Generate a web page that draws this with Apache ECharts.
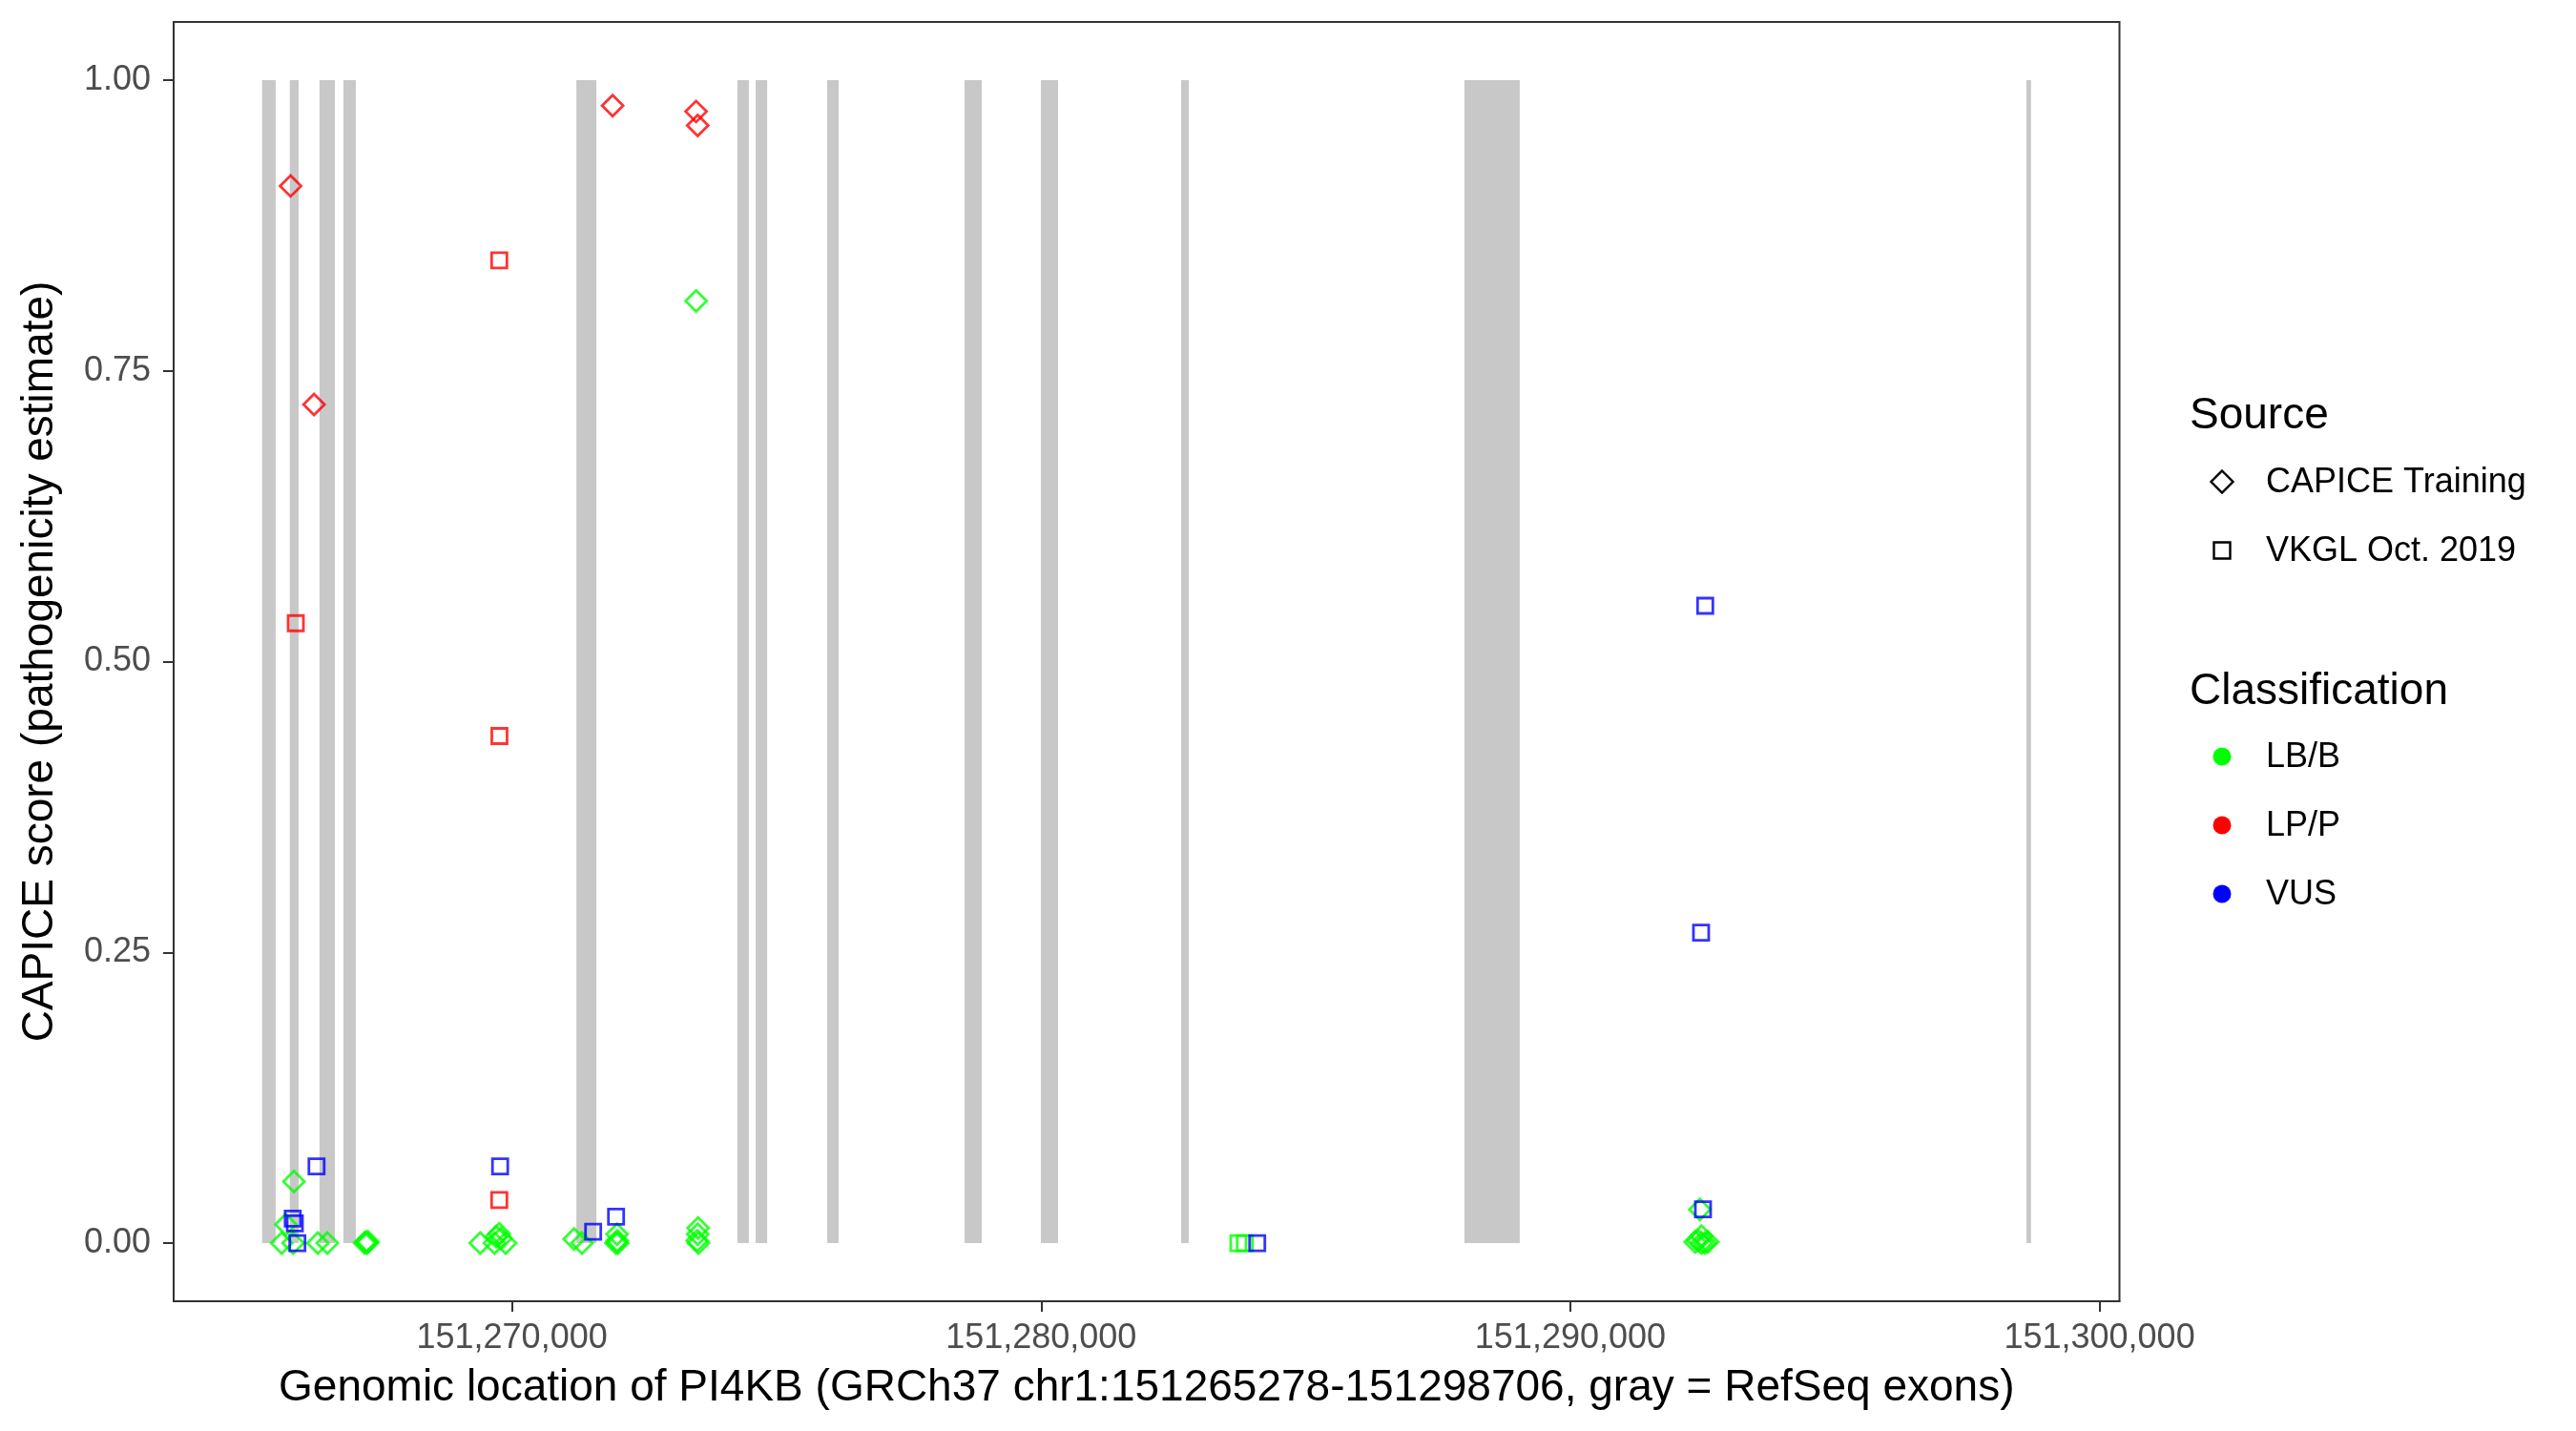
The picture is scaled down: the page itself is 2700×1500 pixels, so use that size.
<!DOCTYPE html>
<html><head><meta charset="utf-8">
<script src="https://cdn.jsdelivr.net/npm/echarts@6/dist/echarts.min.js"></script>
<style>html,body{margin:0;padding:0;background:#fff}#c{width:2700px;height:1500px}</style>
</head><body><div id="c"></div>
<script>
// Gene and exon coordinates (GRCh37 chr1)
const geneStart = 151265278;
const geneEnd = 151298706;
const exonStarts = [151265278, 151265801, 151266363, 151266814, 151271217, 151274260, 151274605, 151275957, 151278553, 151279995, 151282646, 151287999, 151298618];
const exonEnds   = [151265534, 151265969, 151266654, 151267049, 151271596, 151274477, 151274823, 151276173, 151278878, 151280320, 151282790, 151289044, 151298706];

// Tick labels
const xTicks = [151270000, 151280000, 151290000, 151300000];
const yTicks = [0, 0.25, 0.5, 0.75, 1];

// CAPICE Training, LB/B (green diamonds)
const capiceBenignPos   = [151265648, 151265727, 151265864, 151265880, 151266331, 151266510, 151267215, 151267240, 151267260, 151267280, 151269400, 151269670, 151269701, 151269760, 151269790, 151269881, 151271174, 151271323, 151271965, 151271985, 151272000, 151271990, 151273480, 151273517, 151273510, 151273500, 151273525, 151292358, 151292477, 151292598, 151292417, 151292544, 151292477, 151292448];
const capiceBenignScore = [0, 0.016, 0, 0.053, 0, 0, 0, 0.001, 0, 0.001, 0, 0, 0.0055, 0.008, 0.004, 0, 0.0036, 0, 0, 0.0077, 0, 0.002, 0.810, 0.013, 0.0077, 0.002, 0, 0.001, 0.006, 0.001, 0.002, 0, 0, 0.029];

// CAPICE Training, LP/P (red diamonds)
const capicePathoPos   = [151265817, 151266259, 151271902, 151273480, 151273510];
const capicePathoScore = [0.909, 0.721, 0.978, 0.973, 0.961];

// VKGL Oct. 2019, LB/B (green squares)
const vkglBenignPos   = [151283727, 151283849];
const vkglBenignScore = [0, 0];

// VKGL Oct. 2019, LP/P (red squares)
const vkglPathoPos   = [151265915, 151269760, 151269763, 151269760];
const vkglPathoScore = [0.533, 0.845, 0.436, 0.037];

// VKGL Oct. 2019, VUS (blue squares)
const vkglVusPos   = [151265857, 151265897, 151265945, 151266307, 151269776, 151271534, 151271967, 151284083, 151292471, 151292507, 151292549];
const vkglVusScore = [0.021, 0.017, 0, 0.066, 0.066, 0.0098, 0.0227, 0, 0.267, 0.029, 0.548];

const GREEN = '#00FF00', RED = '#FF0000', BLUE = '#0000FF';
const FONT = '"Liberation Sans", Arial, sans-serif';

const span = geneEnd - geneStart;
const xMin = geneStart - 0.05 * span;
const xMax = geneEnd + 0.05 * span;

function pairs(p, s) { return p.map((v, i) => [v, s[i]]); }
function commas(v) { return String(Math.round(v)).replace(/\B(?=(\d{3})+(?!\d))/g, ','); }

function pointSeries(name, pos, score, symbol, color) {
  return {
    name: name, type: 'scatter', data: pairs(pos, score),
    symbol: symbol, symbolSize: symbol === 'diamond' ? 22 : 16,
    itemStyle: { color: 'rgba(0,0,0,0)', borderColor: color, borderWidth: 2.8 },
    emphasis: { disabled: true }, silent: true, z: 3
  };
}

const chart = echarts.init(document.getElementById('c'));
const GL = 2329, TX = 2375, DY = 2;
chart.setOption({
  animation: false,
  backgroundColor: '#fff',
  grid: { left: 182, top: 23, width: 2039.5, height: 1341, show: true, borderColor: '#333', borderWidth: 2, backgroundColor: '#fff' },
  xAxis: {
    type: 'value', min: xMin, max: xMax,
    name: 'Genomic location of PI4KB (GRCh37 chr1:151265278-151298706, gray = RefSeq exons)',
    nameLocation: 'middle', nameGap: 68,
    nameTextStyle: { fontSize: 46, color: '#000', fontFamily: FONT },
    axisLine: { show: true, onZero: false, lineStyle: { color: '#333', width: 2 } },
    axisTick: { show: true, length: 11, customValues: xTicks, lineStyle: { color: '#333', width: 2 } },
    axisLabel: { customValues: xTicks, formatter: commas, fontSize: 36, color: '#4D4D4D', fontFamily: FONT, margin: 21 },
    splitLine: { show: false }
  },
  yAxis: {
    type: 'value', min: -0.05, max: 1.05,
    name: 'CAPICE score (pathogenicity estimate)',
    nameLocation: 'middle', nameGap: 117, nameRotate: 90,
    nameTextStyle: { fontSize: 46, color: '#000', fontFamily: FONT },
    axisLine: { show: true, onZero: false, lineStyle: { color: '#333', width: 2 } },
    axisTick: { show: true, length: 11, customValues: yTicks, lineStyle: { color: '#333', width: 2 } },
    axisLabel: { customValues: yTicks, formatter: v => v.toFixed(2), fontSize: 36, color: '#4D4D4D', fontFamily: FONT, margin: 24 },
    splitLine: { show: false }
  },
  series: [
    {
      name: 'RefSeq exons', type: 'custom', silent: true, z: 1,
      data: exonStarts.map((s, i) => [s, exonEnds[i], 0, 1]),
      encode: { x: [0, 1], y: [2, 3] },
      renderItem: function (params, api) {
        const p0 = api.coord([api.value(0), api.value(3)]);
        const p1 = api.coord([api.value(1), api.value(2)]);
        return { type: 'rect', shape: { x: p0[0], y: p0[1], width: p1[0] - p0[0], height: p1[1] - p0[1] }, style: { fill: '#C8C8C8' } };
      }
    },
    pointSeries('CAPICE Training LB/B', capiceBenignPos, capiceBenignScore, 'diamond', GREEN),
    pointSeries('VKGL LB/B', vkglBenignPos, vkglBenignScore, 'rect', GREEN),
    pointSeries('CAPICE Training LP/P', capicePathoPos, capicePathoScore, 'diamond', RED),
    pointSeries('VKGL LP/P', vkglPathoPos, vkglPathoScore, 'rect', RED),
    pointSeries('VKGL VUS', vkglVusPos, vkglVusScore, 'rect', BLUE)
  ],
  graphic: [
    { type: 'text', left: 2295, top: 413, style: { text: 'Source', font: '46px ' + FONT, fill: '#000' } },
    { type: 'polygon', shape: { points: [[GL, 491.5 + DY], [GL + 11.5, 503 + DY], [GL, 514.5 + DY], [GL - 11.5, 503 + DY]] }, style: { fill: 'none', stroke: '#000', lineWidth: 2.4 } },
    { type: 'text', x: TX, y: 506, style: { text: 'CAPICE Training', font: '36px ' + FONT, fill: '#000', textVerticalAlign: 'middle' } },
    { type: 'rect', shape: { x: GL - 8.5, y: 566.5 + DY, width: 17, height: 17 }, style: { fill: 'none', stroke: '#000', lineWidth: 2.4 } },
    { type: 'text', x: TX, y: 578, style: { text: 'VKGL Oct. 2019', font: '36px ' + FONT, fill: '#000', textVerticalAlign: 'middle' } },
    { type: 'text', left: 2295, top: 702, style: { text: 'Classification', font: '46px ' + FONT, fill: '#000' } },
    { type: 'circle', shape: { cx: GL, cy: 793, r: 9.5 }, style: { fill: GREEN } },
    { type: 'text', x: TX, y: 794, style: { text: 'LB/B', font: '36px ' + FONT, fill: '#000', textVerticalAlign: 'middle' } },
    { type: 'circle', shape: { cx: GL, cy: 865, r: 9.5 }, style: { fill: RED } },
    { type: 'text', x: TX, y: 866, style: { text: 'LP/P', font: '36px ' + FONT, fill: '#000', textVerticalAlign: 'middle' } },
    { type: 'circle', shape: { cx: GL, cy: 937, r: 9.5 }, style: { fill: BLUE } },
    { type: 'text', x: TX, y: 938, style: { text: 'VUS', font: '36px ' + FONT, fill: '#000', textVerticalAlign: 'middle' } }
  ]
});
</script></body></html>
